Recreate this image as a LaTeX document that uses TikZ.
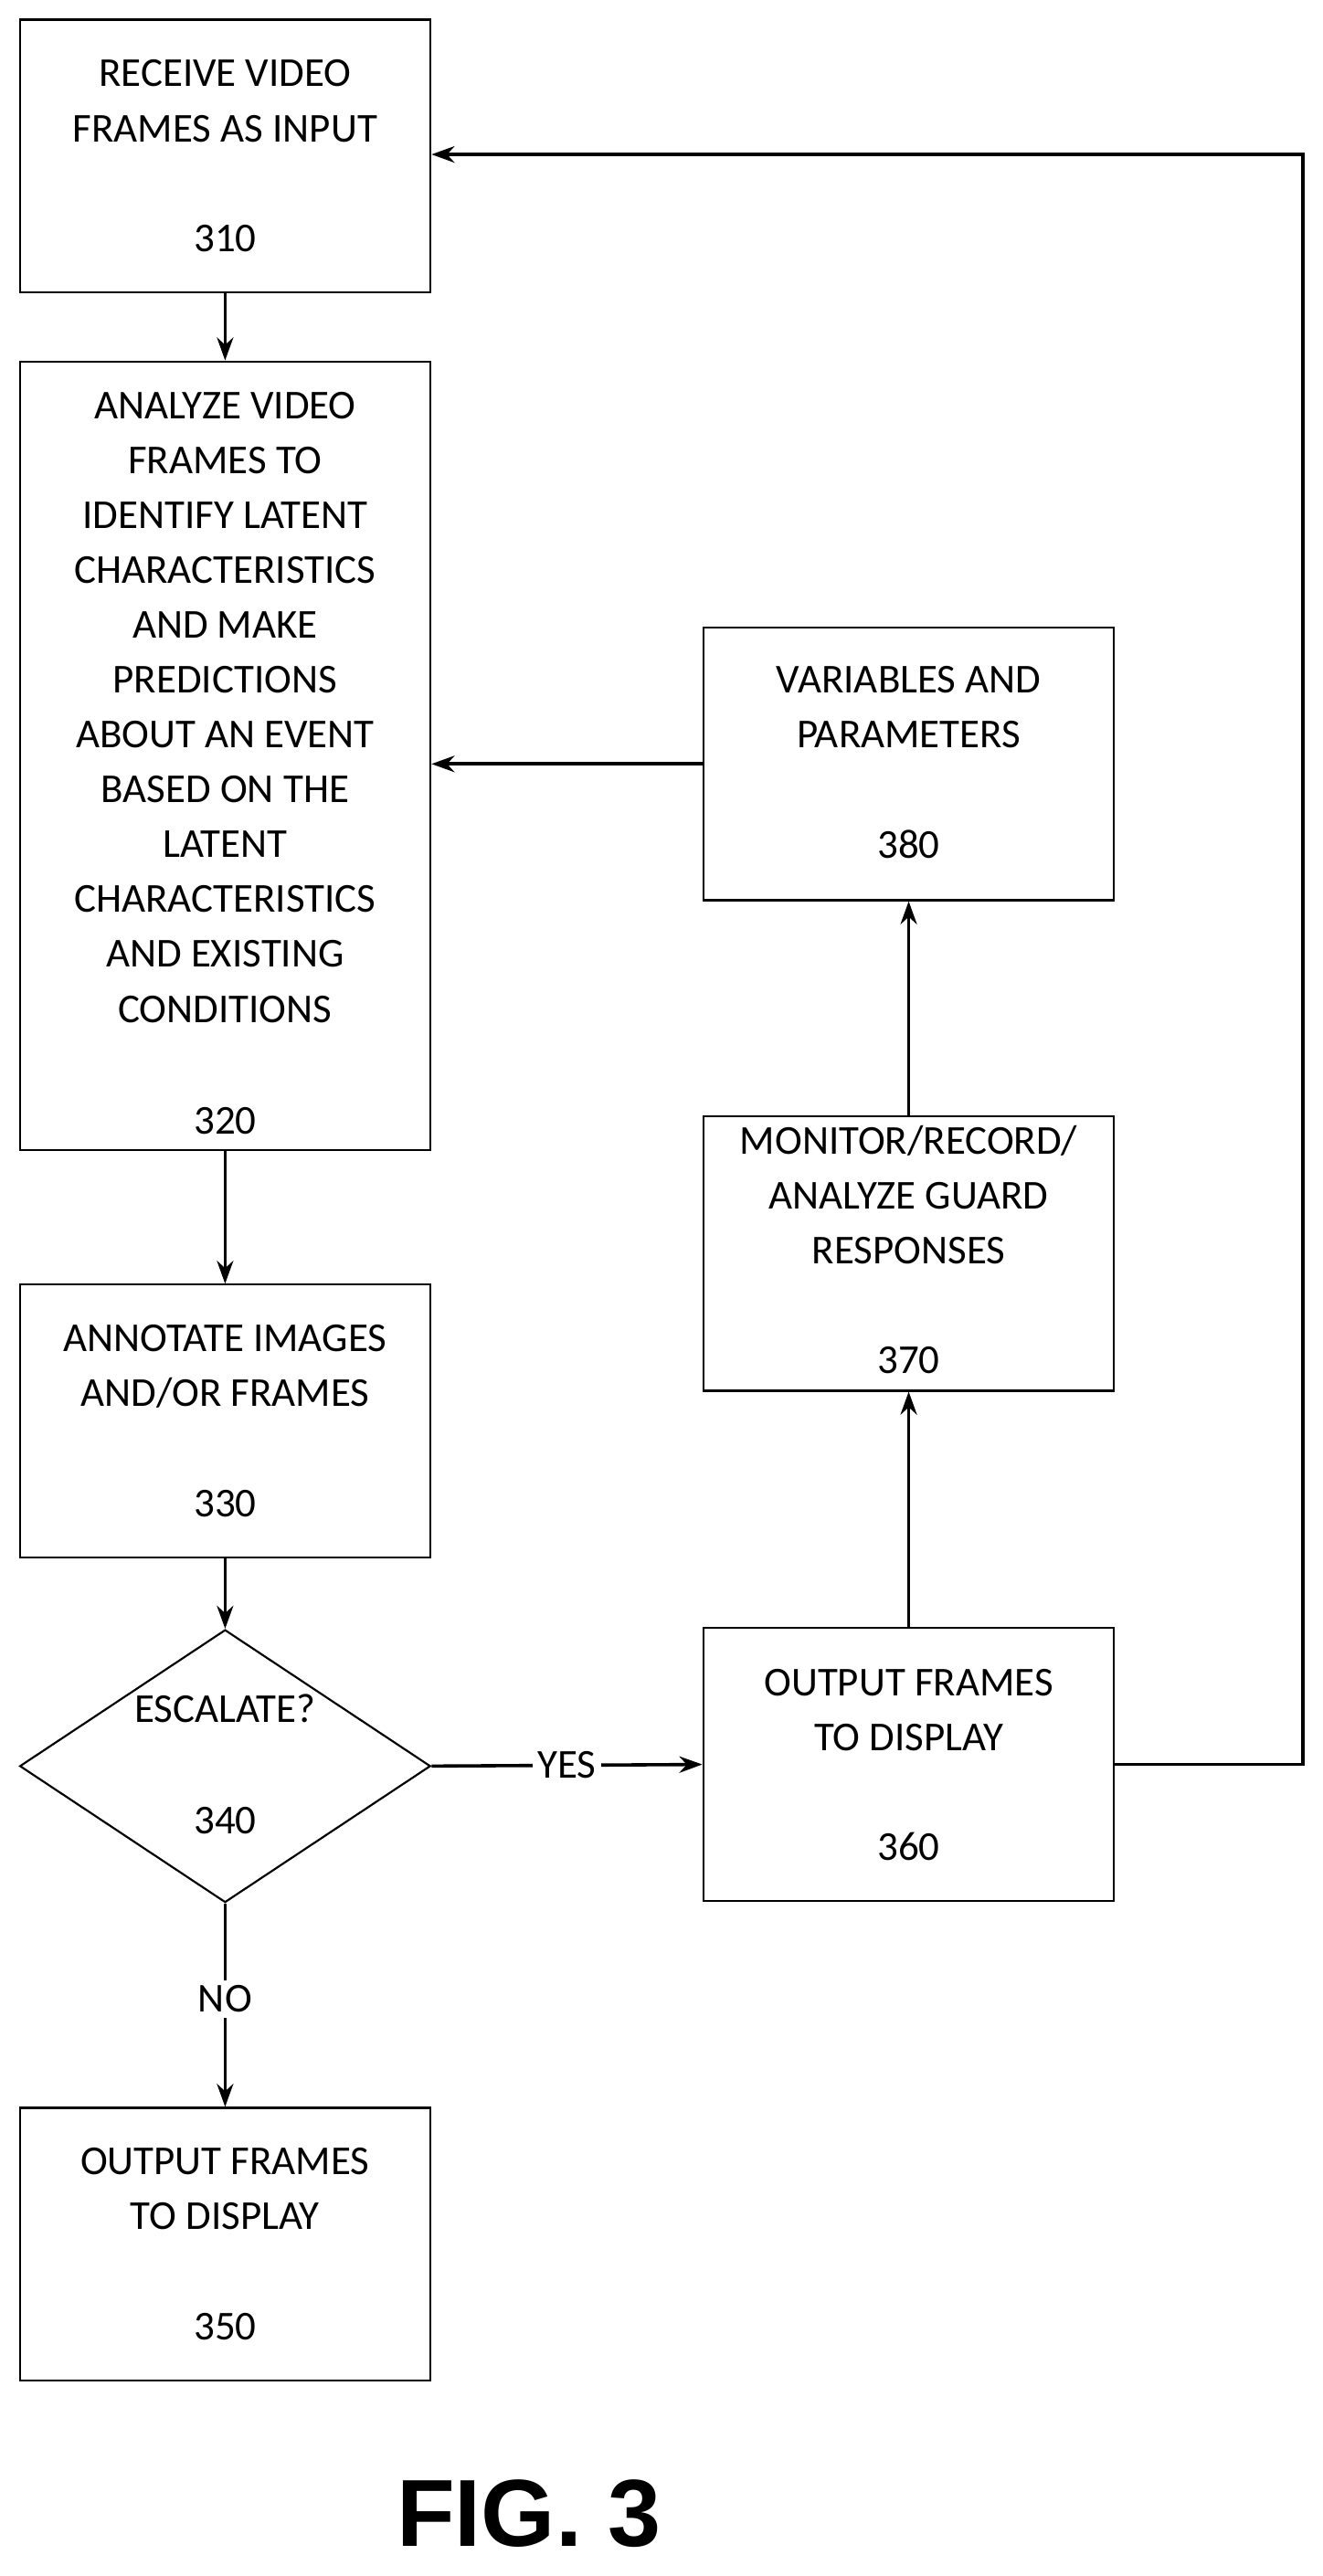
\documentclass[tikz,border=0pt]{standalone}
\usepackage{fontspec}
\setmainfont{Carlito}
\newfontfamily\figfont{Liberation Sans}
\usetikzlibrary{arrows.meta,shapes.geometric}
\begin{document}
\begin{tikzpicture}[x=1pt,y=-1pt,
  box/.style={draw,line width=1.2pt,minimum width=250pt,minimum height=166pt,inner sep=0pt},
  txt/.style={align=center,font=\fontsize{25}{33.4}\selectfont,inner sep=0pt},
  arr/.style={line width=2pt,-{Stealth[length=14pt,width=10pt]}}]
\useasboundingbox (0,0) rectangle (805,1568);
\node[box] (b310) at (137,95) {};
\node[box,minimum height=480pt] (b320) at (137,460) {};
\node[box] (b330) at (137,865) {};
\node[draw,line width=1.2pt,diamond,minimum width=250pt,minimum height=166pt,inner sep=0pt,shape aspect=1.5] (b340) at (137,1075) {};
\node[box] (b350) at (137,1366) {};
\node[box] (b360) at (553,1074) {};
\node[box,minimum height=167pt] (b370) at (553,763) {};
\node[box] (b380) at (553,465) {};
\node[txt] (t310) at (137,61.5) {RECEIVE VIDEO\\FRAMES AS INPUT};
\node[txt] (n310) at (137,145) {310};
\node[txt] (t320) at (137,430.5) {ANALYZE VIDEO\\FRAMES TO\\IDENTIFY LATENT\\CHARACTERISTICS\\AND MAKE\\PREDICTIONS\\ABOUT AN EVENT\\BASED ON THE\\LATENT\\CHARACTERISTICS\\AND EXISTING\\CONDITIONS};
\node[txt] (n320) at (137,682) {320};
\node[txt] (t330) at (137,831.5) {ANNOTATE IMAGES\\AND/OR FRAMES};
\node[txt] (n330) at (137,915) {330};
\node[txt] (t340) at (137,1040) {ESCALATE?};
\node[txt] (n340) at (137,1108) {340};
\node[txt] (t350) at (137,1332.5) {OUTPUT FRAMES\\TO DISPLAY};
\node[txt] (n350) at (137,1416) {350};
\node[txt] (t360) at (553,1041) {OUTPUT FRAMES\\TO DISPLAY};
\node[txt] (n360) at (553,1124) {360};
\node[txt] (t370) at (553,727.5) {MONITOR/RECORD/\\ANALYZE GUARD\\RESPONSES};
\node[txt] (n370) at (553,828) {370};
\node[txt] (t380) at (553,430.5) {VARIABLES AND\\PARAMETERS};
\node[txt] (n380) at (553,514) {380};
\draw[arr] (b310) -- (b320);
\draw[arr] (b320) -- (b330);
\draw[arr] (b330) -- (b340.north);
\draw[arr] (b340.south) -- node[fill=white,txt,inner sep=3pt,pos=0.47] (no) {NO} (b350);
\draw[arr] (b340.east) -- node[fill=white,txt,inner sep=3pt,pos=0.5] (yes) {YES} (b360.west);
\draw[arr] (b360) -- (b370);
\draw[arr] (b370) -- (b380);
\draw[arr] (b380.west) -- (b380.west -| b320.east);
\coordinate (c1) at (793,1074);
\coordinate (c2) at (793,94);
\draw[arr] (b360.east) -- (c1) -- (c2) -- (c2 -| b310.east);
\node[font=\figfont\bfseries\fontsize{58}{60}\selectfont,inner sep=0pt] (fig) at (322,1530) {FIG. 3};
\end{tikzpicture}
\end{document}
